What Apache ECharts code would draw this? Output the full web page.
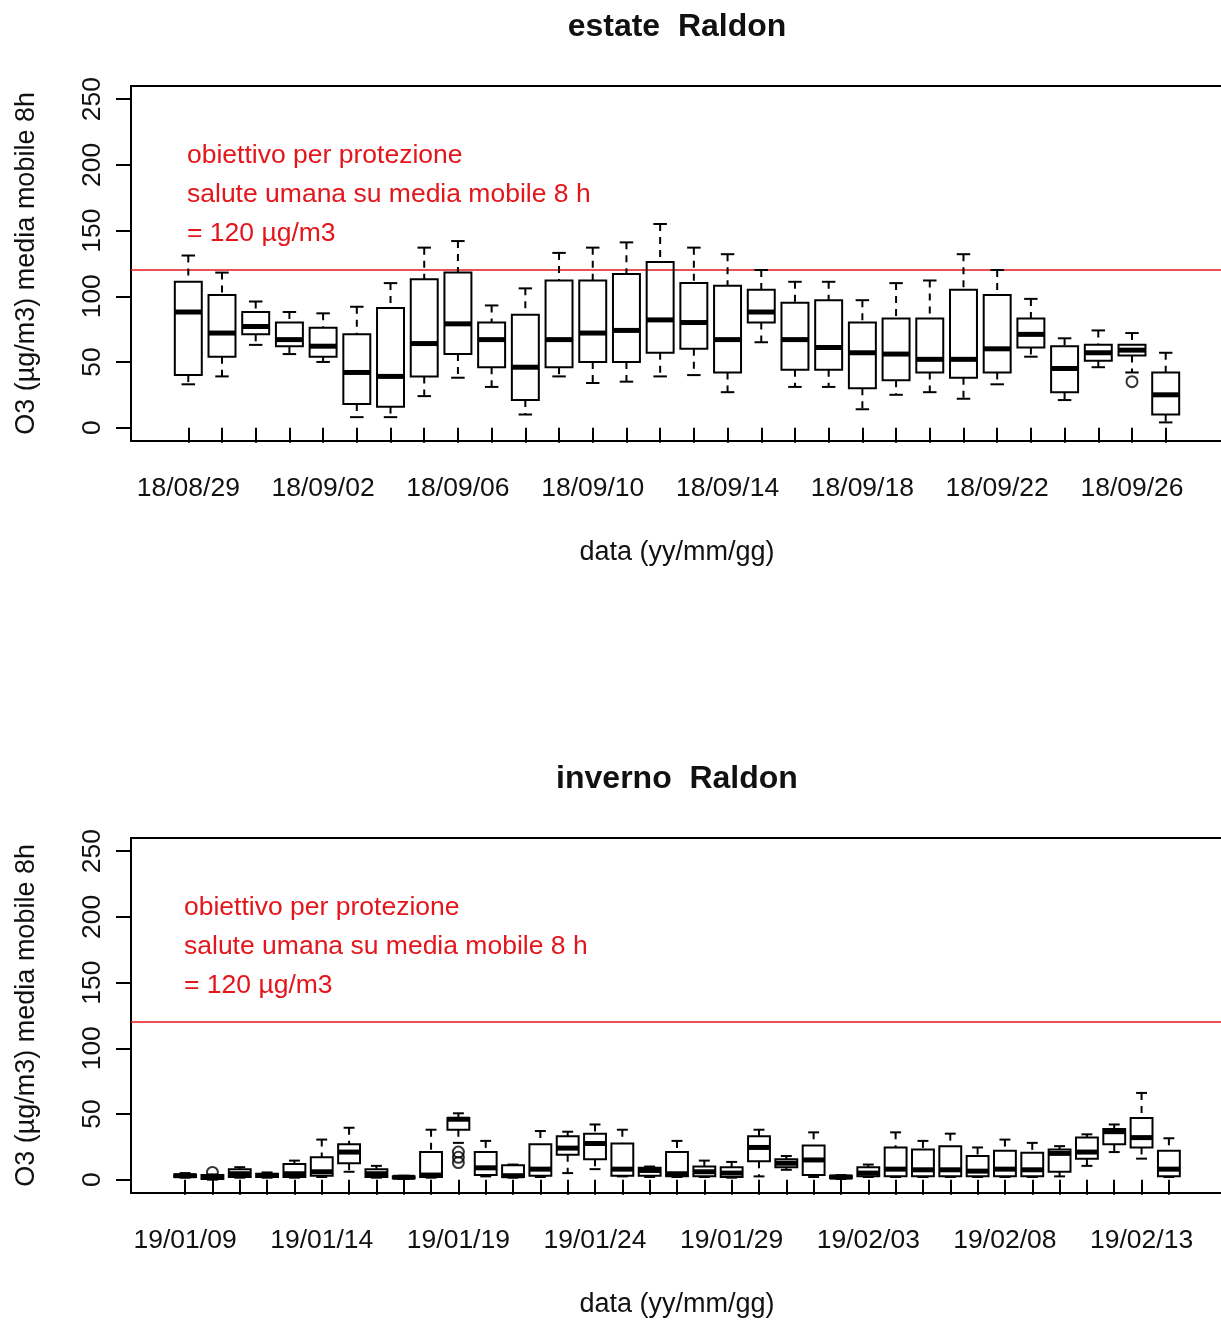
<!DOCTYPE html>
<html>
<head>
<meta charset="utf-8">
<script src="https://cdn.jsdelivr.net/npm/echarts@6/dist/echarts.min.js"></script>
<style>
  html, body { margin: 0; padding: 0; background: #ffffff; }
  #chart { width: 1221px; height: 1321px; }
</style>
</head>
<body>
<div id="chart"></div>
<script>
// O3 8-hour moving average, daily distributions at Raldon (µg/m3)
const summerDays = [
  '18/08/29','18/08/30','18/08/31','18/09/01','18/09/02','18/09/03','18/09/04','18/09/05',
  '18/09/06','18/09/07','18/09/08','18/09/09','18/09/10','18/09/11','18/09/12','18/09/13',
  '18/09/14','18/09/15','18/09/16','18/09/17','18/09/18','18/09/19','18/09/20','18/09/21',
  '18/09/22','18/09/23','18/09/24','18/09/25','18/09/26','18/09/27'
];
// [lower whisker, Q1, median, Q3, upper whisker]
const summerBoxes = [
  [33, 40, 88, 111, 131], [39, 54, 72, 101, 118], [63, 71, 77, 88, 96], [56, 62, 67, 80, 88],
  [50, 54, 62, 76, 87], [8, 18, 42, 71, 92], [8, 16, 39, 91, 110], [24, 39, 64, 113, 137],
  [38, 56, 79, 118, 142], [31, 46, 67, 80, 93], [10, 21, 46, 86, 106], [39, 46, 67, 112, 133],
  [34, 50, 72, 112, 137], [35, 50, 74, 117, 141], [39, 57, 82, 126, 155], [40, 60, 80, 110, 137],
  [27, 42, 67, 108, 132], [65, 80, 88, 105, 120], [31, 44, 67, 95, 111], [31, 44, 61, 97, 111],
  [14, 30, 57, 80, 97], [25, 36, 56, 83, 110], [27, 42, 52, 83, 112], [22, 38, 52, 105, 132],
  [33, 42, 60, 101, 120], [54, 61, 71, 83, 98], [21, 27, 45, 62, 68], [46, 51, 57, 63, 74],
  [42, 55, 59, 63, 72], [4, 10, 25, 42, 57]
];
// [day index, value]
const summerOutliers = [[28, 35]];

const winterDays = [
  '19/01/09','19/01/10','19/01/11','19/01/12','19/01/13','19/01/14','19/01/15','19/01/16',
  '19/01/17','19/01/18','19/01/19','19/01/20','19/01/21','19/01/22','19/01/23','19/01/24',
  '19/01/25','19/01/26','19/01/27','19/01/28','19/01/29','19/01/30','19/01/31','19/02/01',
  '19/02/02','19/02/03','19/02/04','19/02/05','19/02/06','19/02/07','19/02/08','19/02/09',
  '19/02/10','19/02/11','19/02/12','19/02/13','19/02/14'
];
const winterBoxes = [
  [1.5, 2, 3, 4, 5], [0, 0.5, 2, 3.5, 4], [1.5, 2, 4.5, 8, 9.5], [1.5, 2, 3.2, 4.5, 5.5],
  [1.5, 2, 4.5, 12, 14.5], [2, 3, 6, 17, 30.5], [6, 12.5, 21, 27, 39.5], [1.5, 2, 4.5, 8, 10.5],
  [0.5, 1, 1.8, 2.5, 3], [1.5, 2, 3.5, 21, 38], [28, 38, 46, 47, 50.5], [2.5, 3.5, 9, 21, 29.5],
  [1.5, 2, 3, 11, 11.5], [2, 3, 8, 27, 37], [5, 19, 24, 33, 36.5], [8, 15.5, 27.5, 35, 42],
  [2.5, 3, 8, 27.5, 38], [2, 3, 7, 9, 10], [2, 2.5, 4.5, 21, 29.5], [2, 2.5, 6, 10, 14.5],
  [1.5, 2, 5, 9.5, 13.5], [2.5, 14, 24.5, 33, 38], [7.5, 9.5, 12.5, 15.5, 18], [2, 3.5, 15, 26, 36],
  [0.5, 1, 2, 3, 3.5], [2, 2.5, 5, 9.5, 11.5], [2, 2.5, 8, 24.5, 36], [2, 2.5, 7.5, 23, 29.5],
  [2, 2.5, 7.5, 25.5, 35], [2, 2.5, 6.5, 18, 24.5], [2, 2.5, 8, 22, 30.5], [2, 2.5, 7.5, 20.5, 28],
  [2.5, 6, 20, 23, 25.5], [10.5, 16, 21, 32, 34.5], [21, 27, 36.5, 38.5, 42], [16, 24.5, 32, 47, 66],
  [2, 2.5, 8, 22, 31.5]
];
const winterOutliers = [[1, 5.5], [10, 21], [10, 17], [10, 13]];

const yTicks = [0, 50, 100, 150, 200, 250];
const limitValue = 120;
const limitText = ['obiettivo per protezione', 'salute umana su media mobile 8 h', '= 120 µg/m3'];

const FONT = '"Liberation Sans", Arial, Helvetica, sans-serif';
const INK = '#111111';
const RED = '#e3161b';

// Panel geometry: an outer frame with a small margin around the data range,
// and an inner band grid holding the day categories and the 0-250 scale.
const PANEL_SHIFT = 752;
const FRAME_LEFT = 131, FRAME_WIDTH = 1092, FRAME_TOP = 86, FRAME_HEIGHT = 354.8;
const Y_MIN_FRAME = -10, Y_MAX_FRAME = 260;
const PX_PER_UNIT = FRAME_HEIGHT / (Y_MAX_FRAME - Y_MIN_FRAME);
const INNER_LEFT = FRAME_LEFT + 0.04 * FRAME_WIDTH / 1.08;
const INNER_WIDTH = FRAME_WIDTH / 1.08;
const INNER_TOP = FRAME_TOP + (Y_MAX_FRAME - yTicks[yTicks.length - 1]) * PX_PER_UNIT;
const INNER_HEIGHT = (yTicks[yTicks.length - 1] - yTicks[0]) * PX_PER_UNIT;
const AXIS_DROP = (yTicks[0] - Y_MIN_FRAME) * PX_PER_UNIT;

const frameLine = { show: true, onZero: false, lineStyle: { color: '#000', width: 2 } };

function renderBox(params, api) {
  const idx = api.value(0);
  const pLow = api.coord([idx, api.value(1)]);
  const pQ1 = api.coord([idx, api.value(2)]);
  const pMed = api.coord([idx, api.value(3)]);
  const pQ3 = api.coord([idx, api.value(4)]);
  const pHigh = api.coord([idx, api.value(5)]);
  const band = api.size([1, 0])[0];
  const half = band * 0.4;
  const cap = band * 0.2;
  const x = pMed[0];
  const solid = { stroke: '#000', lineWidth: 2, fill: null };
  const dashed = { stroke: '#000', lineWidth: 2, lineDash: [7, 6], fill: null };
  return {
    type: 'group',
    children: [
      { type: 'line', shape: { x1: x, y1: pHigh[1], x2: x, y2: pQ3[1] }, style: dashed },
      { type: 'line', shape: { x1: x, y1: pQ1[1], x2: x, y2: pLow[1] }, style: dashed },
      { type: 'line', shape: { x1: x - cap, y1: pHigh[1], x2: x + cap, y2: pHigh[1] }, style: solid },
      { type: 'line', shape: { x1: x - cap, y1: pLow[1], x2: x + cap, y2: pLow[1] }, style: solid },
      { type: 'rect', shape: { x: x - half, y: pQ3[1], width: 2 * half, height: pQ1[1] - pQ3[1] },
        style: { stroke: '#000', lineWidth: 2, fill: null } },
      { type: 'line', shape: { x1: x - half, y1: pMed[1], x2: x + half, y2: pMed[1] },
        style: { stroke: '#000', lineWidth: 5 } }
    ]
  };
}

const panels = [
  { title: 'estate  Raldon', days: summerDays, boxes: summerBoxes, outliers: summerOutliers, labelEvery: 4, textX: 187 },
  { title: 'inverno  Raldon', days: winterDays, boxes: winterBoxes, outliers: winterOutliers, labelEvery: 5, textX: 184 }
];

const option = {
  animation: false,
  backgroundColor: '#ffffff',
  title: [], grid: [], xAxis: [], yAxis: [], series: [], graphic: []
};

panels.forEach((p, k) => {
  const dy = k * PANEL_SHIFT;
  const frameIdx = 2 * k, innerIdx = 2 * k + 1;

  option.title.push({
    text: p.title, left: 672, top: 6 + dy, textAlign: 'center',
    textStyle: { fontFamily: FONT, fontSize: 32, fontWeight: 'bold', color: INK }
  });

  option.grid.push({
    left: FRAME_LEFT, top: FRAME_TOP + dy, width: FRAME_WIDTH, height: FRAME_HEIGHT
  });
  option.grid.push({
    left: INNER_LEFT, top: INNER_TOP + dy, width: INNER_WIDTH, height: INNER_HEIGHT
  });

  // frame: left, top and bottom edges (the right edge lies beyond the page)
  const frameX = option.xAxis.length;
  option.xAxis.push({
    gridIndex: frameIdx, type: 'value', min: 0, max: 1, position: 'bottom',
    axisLine: frameLine, axisTick: { show: false }, axisLabel: { show: false }, splitLine: { show: false }
  });
  option.xAxis.push({
    gridIndex: frameIdx, type: 'value', min: 0, max: 1, position: 'top',
    axisLine: frameLine, axisTick: { show: false }, axisLabel: { show: false }, splitLine: { show: false }
  });
  option.yAxis.push({
    gridIndex: frameIdx, type: 'value', min: Y_MIN_FRAME, max: Y_MAX_FRAME, position: 'left',
    axisLine: frameLine, axisTick: { show: false }, axisLabel: { show: false }, splitLine: { show: false }
  });

  const dayX = option.xAxis.length;
  option.xAxis.push({
    gridIndex: innerIdx, type: 'category', data: p.days, position: 'bottom',
    offset: AXIS_DROP, boundaryGap: true,
    axisLine: { show: false },
    axisTick: { show: true, alignWithLabel: true, interval: 0, length: 15, lineStyle: { color: '#000', width: 2 } },
    axisLabel: { interval: p.labelEvery - 1, margin: 34, fontFamily: FONT, fontSize: 26.5, color: INK },
    name: 'data (yy/mm/gg)', nameLocation: 'middle', nameGap: 98,
    nameTextStyle: { fontFamily: FONT, fontSize: 27, color: INK },
    splitLine: { show: false }
  });
  option.yAxis.push({
    gridIndex: innerIdx, type: 'value', min: yTicks[0], max: yTicks[yTicks.length - 1],
    interval: yTicks[1] - yTicks[0], offset: INNER_LEFT - FRAME_LEFT,
    axisLine: { show: false },
    axisTick: { show: true, length: 15, lineStyle: { color: '#000', width: 2 } },
    axisLabel: { rotate: 90, margin: 25, fontFamily: FONT, fontSize: 26.5, color: INK },
    name: 'O3 (µg/m3) media mobile 8h', nameLocation: 'middle', nameRotate: 90, nameGap: 91,
    nameTextStyle: { fontFamily: FONT, fontSize: 27, color: INK },
    splitLine: { show: false }
  });

  option.series.push({
    type: 'line', xAxisIndex: frameX, yAxisIndex: frameIdx, silent: true,
    data: [[0, limitValue], [1, limitValue]], symbol: 'none',
    lineStyle: { color: RED, width: 1.6 }, z: 1
  });
  option.series.push({
    type: 'custom', xAxisIndex: dayX, yAxisIndex: innerIdx, silent: true,
    renderItem: renderBox,
    encode: { x: 0, y: [1, 2, 3, 4, 5] },
    data: p.boxes.map((b, i) => [i].concat(b)), z: 3
  });
  option.series.push({
    type: 'scatter', xAxisIndex: dayX, yAxisIndex: innerIdx, silent: true,
    data: p.outliers, symbol: 'circle', symbolSize: 11,
    itemStyle: { color: 'rgba(0,0,0,0)', borderColor: '#000', borderWidth: 2 }, z: 4
  });

  option.graphic.push({
    type: 'text', left: p.textX, top: 136 + dy, silent: true,
    style: { text: limitText.join('\n'), fill: RED, font: '26.5px ' + FONT, lineHeight: 39 }
  });
});

const chart = echarts.init(document.getElementById('chart'), null, { renderer: 'canvas' });
chart.setOption(option);
</script>
</body>
</html>
